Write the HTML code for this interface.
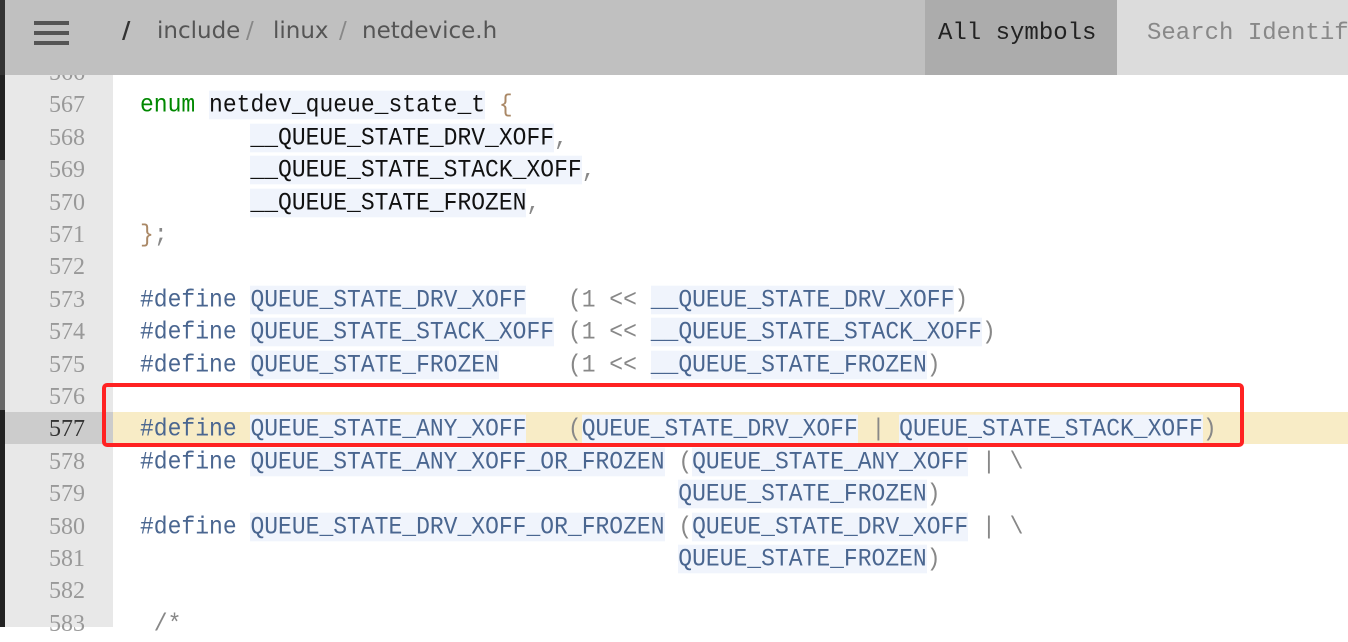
<!DOCTYPE html>
<html><head><meta charset="utf-8"><style>
*{margin:0;padding:0;box-sizing:border-box}
body{width:1348px;height:627px;overflow:hidden;background:#fff;position:relative;font-family:"Liberation Mono",monospace}
.strip{position:absolute;left:0;top:0;width:5px;height:627px;background:#222}
.strip2{position:absolute;left:0;top:160px;width:5px;height:250px;background:#666}
.gut{position:absolute;left:5px;top:0;width:108px;height:627px;background:#e8e8e8}
.hl{position:absolute;left:113px;top:412px;width:1235px;height:32px;background:#f8ecc6}
.hlg{position:absolute;left:5px;top:412px;width:108px;height:32px;background:#ccc}
.code{position:absolute;left:0;top:57px;}
.ln{position:absolute;left:5px;width:80px;text-align:right;color:#999;font-family:"Liberation Serif",serif;font-size:24px;height:32.4px;line-height:32.4px}
.cl{position:absolute;left:140px;white-space:pre;font-size:23px;height:32.4px;line-height:32.4px;color:#888;transform:scaleY(1.1)}
.id{color:#4a6690;background:#f0f4fc}
.kw{color:#080}
.pp{color:#4a6690}
.hdr{position:absolute;left:0;top:0;width:1348px;height:75px;background:#c0c0c0}
.menu{position:absolute;left:34px;width:35px;height:4px;background:#555}
.crumb{position:absolute;top:18px;font-family:"DejaVu Sans",sans-serif;font-size:23px;color:#555}
.sel{position:absolute;left:925px;top:0;width:192px;height:75px;background:#acacac;font-size:24px;color:#222;padding:20px 0 0 13px;white-space:nowrap;overflow:hidden}
.srch{position:absolute;left:1117px;top:0;width:231px;height:75px;background:#dcdcdc;font-size:24px;color:#888;padding:20px 0 0 30px;white-space:nowrap;overflow:hidden}
.box{position:absolute;left:102px;top:383px;width:1142px;height:64px;border:4px solid #f22;border-radius:5px}
</style></head><body>
<div class="gut"></div>
<div class="hlg"></div>
<div class="hl"></div>
<div class="strip"></div><div class="strip2"></div>
<div class="code">
<div class="ln" style="top:0">566</div>
<div class="ln" style="top:32.4px">567</div><div class="cl" style="top:32.4px"><span class="kw">enum</span> <span class="id" style="color:#111">netdev_queue_state_t</span> <span style="color:#a86">{</span></div>
<div class="ln" style="top:64.8px">568</div><div class="cl" style="top:64.8px">        <span class="id" style="color:#111">__QUEUE_STATE_DRV_XOFF</span>,</div>
<div class="ln" style="top:97.2px">569</div><div class="cl" style="top:97.2px">        <span class="id" style="color:#111">__QUEUE_STATE_STACK_XOFF</span>,</div>
<div class="ln" style="top:129.6px">570</div><div class="cl" style="top:129.6px">        <span class="id" style="color:#111">__QUEUE_STATE_FROZEN</span>,</div>
<div class="ln" style="top:162px">571</div><div class="cl" style="top:162px"><span style="color:#a86">}</span>;</div>
<div class="ln" style="top:194.4px">572</div>
<div class="ln" style="top:226.8px">573</div><div class="cl" style="top:226.8px"><span class="pp">#define</span> <span class="id">QUEUE_STATE_DRV_XOFF</span>   (1 &lt;&lt; <span class="id">__QUEUE_STATE_DRV_XOFF</span>)</div>
<div class="ln" style="top:259.2px">574</div><div class="cl" style="top:259.2px"><span class="pp">#define</span> <span class="id">QUEUE_STATE_STACK_XOFF</span> (1 &lt;&lt; <span class="id">__QUEUE_STATE_STACK_XOFF</span>)</div>
<div class="ln" style="top:291.6px">575</div><div class="cl" style="top:291.6px"><span class="pp">#define</span> <span class="id">QUEUE_STATE_FROZEN</span>     (1 &lt;&lt; <span class="id">__QUEUE_STATE_FROZEN</span>)</div>
<div class="ln" style="top:324px">576</div>
<div class="ln" style="top:356.4px;color:#333">577</div><div class="cl" style="top:356.4px"><span class="pp">#define</span> <span class="id">QUEUE_STATE_ANY_XOFF</span>   (<span class="id">QUEUE_STATE_DRV_XOFF</span> | <span class="id">QUEUE_STATE_STACK_XOFF</span>)</div>
<div class="ln" style="top:388.8px">578</div><div class="cl" style="top:388.8px"><span class="pp">#define</span> <span class="id">QUEUE_STATE_ANY_XOFF_OR_FROZEN</span> (<span class="id">QUEUE_STATE_ANY_XOFF</span> | \</div>
<div class="ln" style="top:421.2px">579</div><div class="cl" style="top:421.2px">                                       <span class="id">QUEUE_STATE_FROZEN</span>)</div>
<div class="ln" style="top:453.6px">580</div><div class="cl" style="top:453.6px"><span class="pp">#define</span> <span class="id">QUEUE_STATE_DRV_XOFF_OR_FROZEN</span> (<span class="id">QUEUE_STATE_DRV_XOFF</span> | \</div>
<div class="ln" style="top:486px">581</div><div class="cl" style="top:486px">                                       <span class="id">QUEUE_STATE_FROZEN</span>)</div>
<div class="ln" style="top:518.4px">582</div>
<div class="ln" style="top:550.8px">583</div><div class="cl" style="top:550.8px"> /*</div>
</div>
<div class="box"></div>
<div class="hdr">
<div class="strip" style="height:75px;background:#333"></div>
<div class="menu" style="top:21px"></div><div class="menu" style="top:31px"></div><div class="menu" style="top:41px"></div>
<div class="crumb" style="left:122px;font-weight:bold;color:#333">/</div>
<div class="crumb" style="left:157px">include</div>
<div class="crumb" style="left:246px;color:#888">/</div>
<div class="crumb" style="left:273px">linux</div>
<div class="crumb" style="left:339px;color:#888">/</div>
<div class="crumb" style="left:362px">netdevice.h</div>
<div class="sel">All symbols</div>
<div class="srch">Search Identifier</div>
</div>
</body></html>
